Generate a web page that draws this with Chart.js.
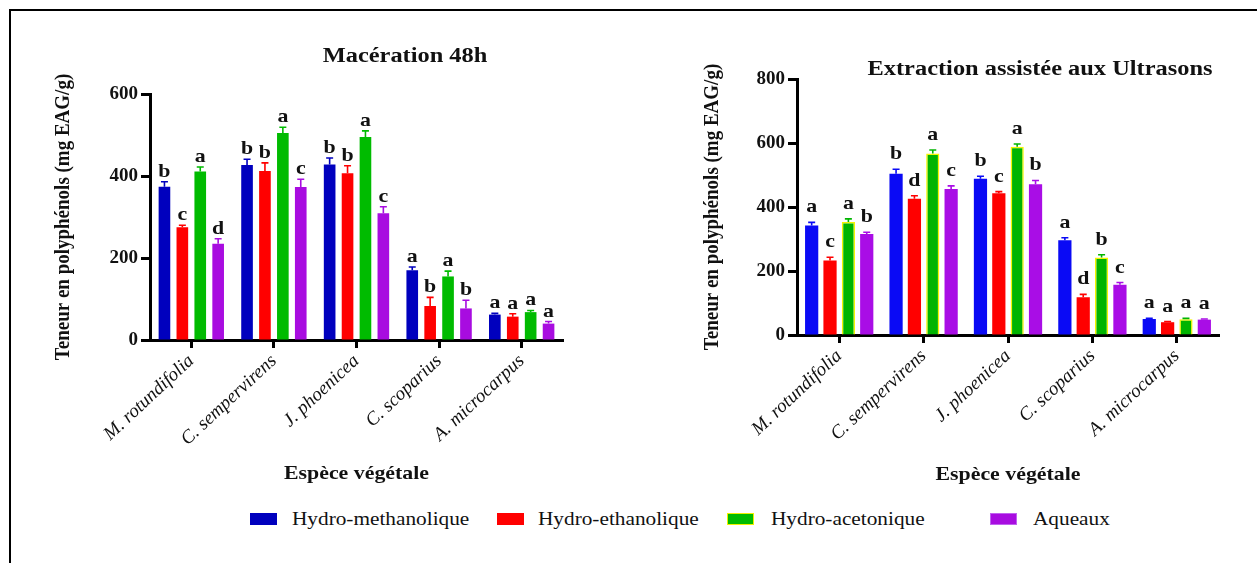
<!DOCTYPE html>
<html>
<head>
<meta charset="utf-8">
<script src="https://cdn.jsdelivr.net/npm/chart.js@4/dist/chart.umd.min.js"></script>
<style>
  html, body { margin: 0; padding: 0; background: #fff; }
  #page { position: relative; width: 1257px; height: 563px; overflow: hidden; }
  #frame { position: absolute; left: 9px; top: 9px; width: 1300px; height: 600px; border-left: 2px solid #000; border-top: 2px solid #000; }
  #c1 { position: absolute; left: 0; top: 0; }
  #c2 { position: absolute; left: 620px; top: 0; }
  #legend { position: absolute; left: 0; top: 507px; width: 1257px; height: 24px; font-family: 'Liberation Serif', serif; font-size: 19px; color: #111; }
  .item { position: absolute; top: 0; height: 24px; display: flex; align-items: center; white-space: nowrap; }
  .sw { width: 27px; height: 12px; box-sizing: border-box; }
  .lbl { display: inline-block; transform: scaleX(1.12); transform-origin: left center; }
</style>
</head>
<body>
<div id="page">
  <div id="frame"></div>
  <canvas id="c1" width="620" height="500"></canvas>
  <canvas id="c2" width="637" height="500"></canvas>
  <div id="legend"></div>
</div>
<script>
// species (x categories)
const species = ['M. rotundifolia', 'C. sempervirens', 'J. phoenicea', 'C. scoparius', 'A. microcarpus'];
const seriesNames = ['Hydro-methanolique', 'Hydro-ethanolique', 'Hydro-acetonique', 'Aqueaux'];

// Macération 48h
const macMethanol = [374, 427, 428, 170, 62];
const macEthanol  = [275, 412, 407, 83, 57];
const macAcetone  = [411, 505, 495, 155, 68];
const macAqueux   = [235, 373, 309, 77, 40];
const macErrMethanol = [12, 14, 16, 8, 3];
const macErrEthanol  = [5, 20, 18, 21, 7];
const macErrAcetone  = [11, 14, 15, 13, 4];
const macErrAqueux   = [12, 19, 16, 20, 5];
const macLetMethanol = ['b', 'b', 'b', 'a', 'a'];
const macLetEthanol  = ['c', 'b', 'b', 'b', 'a'];
const macLetAcetone  = ['a', 'a', 'a', 'a', 'a'];
const macLetAqueux   = ['d', 'c', 'c', 'b', 'a'];
const macTicks = [0, 200, 400, 600];

// Extraction assistée aux ultrasons
const usMethanol = [342, 504, 488, 296, 50];
const usEthanol  = [233, 426, 443, 118, 40];
const usAcetone  = [353, 567, 588, 242, 49];
const usAqueux   = [316, 456, 471, 157, 48];
const usErrMethanol = [10, 14, 8, 8, 2];
const usErrEthanol  = [10, 9, 5, 9, 2];
const usErrAcetone  = [10, 11, 9, 9, 3];
const usErrAqueux   = [5, 10, 12, 7, 2];
const usLetMethanol = ['a', 'b', 'b', 'a', 'a'];
const usLetEthanol  = ['c', 'd', 'c', 'd', 'a'];
const usLetAcetone  = ['a', 'a', 'a', 'b', 'a'];
const usLetAqueux   = ['b', 'c', 'b', 'c', 'a'];
const usTicks = [0, 200, 400, 600, 800];

const SERIF = "'Liberation Serif', 'Times New Roman', serif";

// text drawn a little wider than tall, like the source figure
function stretchText(ctx, text, x, y, sx, rot) {
  ctx.save();
  ctx.translate(x, y);
  ctx.scale(sx, 1);
  if (rot) ctx.rotate(rot);
  ctx.fillText(text, 0, 0);
  ctx.restore();
}

// error bars, significance letters and the titles
const annotate = {
  id: 'annotate',
  afterDatasetsDraw(chart, args, o) {
    const ctx = chart.ctx;
    const y = chart.scales.y;
    ctx.save();
    chart.data.datasets.forEach((ds, i) => {
      const meta = chart.getDatasetMeta(i);
      meta.data.forEach((bar, j) => {
        const top = y.getPixelForValue(ds.data[j] + ds.errors[j]);
        ctx.strokeStyle = ds.backgroundColor;
        ctx.lineWidth = 1.6;
        ctx.beginPath();
        ctx.moveTo(bar.x, bar.y);
        ctx.lineTo(bar.x, top);
        ctx.moveTo(bar.x - 3.5, top);
        ctx.lineTo(bar.x + 3.5, top);
        ctx.stroke();
        ctx.fillStyle = '#111';
        ctx.font = 'bold 19px ' + SERIF;
        ctx.textAlign = 'center';
        ctx.textBaseline = 'alphabetic';
        stretchText(ctx, ds.letters[j], bar.x, top - o.gap, 1.15);
      });
    });
    ctx.restore();
  },
  afterDraw(chart, args, o) {
    const ctx = chart.ctx;
    const a = chart.chartArea;
    ctx.save();
    ctx.fillStyle = '#111';
    ctx.textAlign = 'center';
    ctx.textBaseline = 'middle';
    ctx.font = 'bold 20px ' + SERIF;
    stretchText(ctx, o.title, o.titleX, o.titleY, 1.22);
    ctx.font = 'bold 19px ' + SERIF;
    stretchText(ctx, 'Espèce végétale', (a.left + a.right) / 2, o.xTitleY, 1.15);
    stretchText(ctx, 'Teneur en polyphénols (mg EAG/g)', o.yTitleX, (a.top + a.bottom) / 2, 1.15, -Math.PI / 2);
    ctx.restore();
  }
};

function makeChart(id, cfg) {
  const canvas = document.getElementById(id);
  const W = canvas.width, H = canvas.height, XH = 130;
  const datasets = cfg.values.map((v, i) => ({
    label: seriesNames[i],
    data: v,
    errors: cfg.errors[i],
    letters: cfg.letters[i],
    backgroundColor: cfg.colors[i],
    borderColor: cfg.borders[i],
    borderWidth: cfg.borderWidths[i],
    categoryPercentage: cfg.catPct,
    barPercentage: cfg.barPct
  }));
  return new Chart(canvas, {
    type: 'bar',
    data: { labels: species, datasets },
    plugins: [annotate],
    options: {
      responsive: false,
      animation: false,
      layout: { padding: { left: 0, top: cfg.area.top, right: W - cfg.area.right, bottom: H - cfg.area.bottom - XH } },
      plugins: {
        legend: { display: false },
        title: { display: false },
        tooltip: { enabled: false },
        annotate: cfg.annot
      },
      scales: {
        x: {
          grid: { display: true, offset: false, drawOnChartArea: false, drawTicks: true, tickLength: 8, tickWidth: 3, tickColor: '#000' },
          border: { display: true, color: '#000', width: 3 },
          ticks: { autoSkip: false, maxRotation: 43, minRotation: 43, padding: 2, color: '#111', font: { family: SERIF, style: 'italic', size: 19 } },
          afterFit: s => { s.height = XH; }
        },
        y: {
          min: 0,
          max: cfg.ticks[cfg.ticks.length - 1],
          afterBuildTicks: s => { s.ticks = cfg.ticks.map(v => ({ value: v })); },
          grid: { display: true, drawOnChartArea: false, drawTicks: true, tickLength: 9, tickWidth: 3, tickColor: '#000' },
          border: { display: true, color: '#000', width: 3 },
          ticks: { padding: 3, color: '#111', font: { family: SERIF, weight: 'bold', size: 19 } },
          afterFit: s => { s.width = cfg.area.left; }
        }
      }
    }
  });
}

makeChart('c1', {
  values: [macMethanol, macEthanol, macAcetone, macAqueux],
  errors: [macErrMethanol, macErrEthanol, macErrAcetone, macErrAqueux],
  letters: [macLetMethanol, macLetEthanol, macLetAcetone, macLetAqueux],
  ticks: macTicks,
  colors: ['#0000BE', '#FF0000', '#00BB00', '#A80CE0'],
  borders: ['#3a3ad0', '#ff3030', '#20c020', '#b030e8'],
  borderWidths: [0, 0, 0, 0],
  catPct: 0.867,
  barPct: 0.65,
  area: { left: 150, top: 94, right: 563, bottom: 340 },
  annot: { title: 'Macération 48h', titleX: 405, titleY: 57, xTitleY: 474, yTitleX: 63, gap: 5 }
});

makeChart('c2', {
  values: [usMethanol, usEthanol, usAcetone, usAqueux],
  errors: [usErrMethanol, usErrEthanol, usErrAcetone, usErrAqueux],
  letters: [usLetMethanol, usLetEthanol, usLetAcetone, usLetAqueux],
  ticks: usTicks,
  colors: ['#0A0AF5', '#FF0000', '#00B400', '#A90DE6'],
  borders: ['#0A0AF5', '#FF0000', '#F5F500', '#A90DE6'],
  borderWidths: [0, 0, 1.5, 0],
  catPct: 0.87,
  barPct: 0.72,
  area: { left: 177, top: 79, right: 599, bottom: 335 },
  annot: { title: 'Extraction assistée aux Ultrasons', titleX: 420, titleY: 70, xTitleY: 475, yTitleX: 92, gap: 10 }
});

// shared legend under both charts
const legendColors = ['#0000BE', '#FF0000', '#00BB00', '#A80CE0'];
const legendBorders = ['#0000BE', '#FF0000', '#F0F000', '#C060F0'];
const legendLeft = [250, 497, 727, 990];
const legendGap = [15, 14, 17, 16];
const legend = document.getElementById('legend');
seriesNames.forEach((name, i) => {
  const item = document.createElement('div');
  item.className = 'item';
  item.style.left = legendLeft[i] + 'px';
  const sw = document.createElement('span');
  sw.className = 'sw';
  sw.style.background = legendColors[i];
  sw.style.border = '1.5px solid ' + legendBorders[i];
  sw.style.marginRight = legendGap[i] + 'px';
  const label = document.createElement('span');
  label.className = 'lbl';
  label.textContent = name;
  item.appendChild(sw);
  item.appendChild(label);
  legend.appendChild(item);
});
</script>
</body>
</html>
